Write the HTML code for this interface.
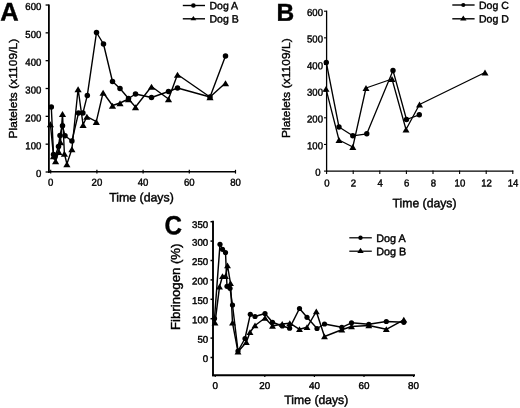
<!DOCTYPE html>
<html><head><meta charset="utf-8"><title>Figure</title>
<style>
html,body{margin:0;padding:0;background:#fff;}
svg{display:block;}
text{font-family:"Liberation Sans", Arial, Helvetica, sans-serif;fill:#000;stroke:#000;stroke-width:0.42px;}
</style></head>
<body>
<svg width="520" height="408" viewBox="0 0 520 408">
<rect width="520" height="408" fill="#fff"/>
<line x1="48.90" y1="4.40" x2="48.90" y2="172.90" stroke="#000" stroke-width="1.8"/>
<line x1="48.00" y1="171.70" x2="236.00" y2="171.70" stroke="#000" stroke-width="1.4"/>
<line x1="45.60" y1="172.00" x2="48.90" y2="172.00" stroke="#000" stroke-width="1.3"/>
<text transform="translate(41.30 177.10) rotate(0.03) scale(0.94 1)" font-size="10.2" text-anchor="end" font-weight="normal">0</text>
<line x1="45.60" y1="144.17" x2="48.90" y2="144.17" stroke="#000" stroke-width="1.3"/>
<text transform="translate(41.30 149.27) rotate(0.03) scale(0.94 1)" font-size="10.2" text-anchor="end" font-weight="normal">100</text>
<line x1="45.60" y1="116.34" x2="48.90" y2="116.34" stroke="#000" stroke-width="1.3"/>
<text transform="translate(41.30 121.44) rotate(0.03) scale(0.94 1)" font-size="10.2" text-anchor="end" font-weight="normal">200</text>
<line x1="45.60" y1="88.51" x2="48.90" y2="88.51" stroke="#000" stroke-width="1.3"/>
<text transform="translate(41.30 93.61) rotate(0.03) scale(0.94 1)" font-size="10.2" text-anchor="end" font-weight="normal">300</text>
<line x1="45.60" y1="60.68" x2="48.90" y2="60.68" stroke="#000" stroke-width="1.3"/>
<text transform="translate(41.30 65.78) rotate(0.03) scale(0.94 1)" font-size="10.2" text-anchor="end" font-weight="normal">400</text>
<line x1="45.60" y1="32.85" x2="48.90" y2="32.85" stroke="#000" stroke-width="1.3"/>
<text transform="translate(41.30 37.95) rotate(0.03) scale(0.94 1)" font-size="10.2" text-anchor="end" font-weight="normal">500</text>
<line x1="45.60" y1="5.02" x2="48.90" y2="5.02" stroke="#000" stroke-width="1.3"/>
<text transform="translate(41.30 10.12) rotate(0.03) scale(0.94 1)" font-size="10.2" text-anchor="end" font-weight="normal">600</text>
<line x1="50.70" y1="169.80" x2="50.70" y2="173.60" stroke="#000" stroke-width="1.2"/>
<text transform="translate(50.70 185.80) rotate(0.03) scale(0.94 1)" font-size="10.2" text-anchor="middle" font-weight="normal">0</text>
<line x1="96.90" y1="169.80" x2="96.90" y2="173.60" stroke="#000" stroke-width="1.2"/>
<text transform="translate(96.90 185.80) rotate(0.03) scale(0.94 1)" font-size="10.2" text-anchor="middle" font-weight="normal">20</text>
<line x1="143.10" y1="169.80" x2="143.10" y2="173.60" stroke="#000" stroke-width="1.2"/>
<text transform="translate(143.10 185.80) rotate(0.03) scale(0.94 1)" font-size="10.2" text-anchor="middle" font-weight="normal">40</text>
<line x1="189.30" y1="169.80" x2="189.30" y2="173.60" stroke="#000" stroke-width="1.2"/>
<text transform="translate(189.30 185.80) rotate(0.03) scale(0.94 1)" font-size="10.2" text-anchor="middle" font-weight="normal">60</text>
<line x1="235.50" y1="169.80" x2="235.50" y2="173.60" stroke="#000" stroke-width="1.2"/>
<text transform="translate(235.50 185.80) rotate(0.03) scale(0.94 1)" font-size="10.2" text-anchor="middle" font-weight="normal">80</text>
<text transform="translate(141.50 201.60) rotate(0.03)" font-size="12.3" text-anchor="middle" font-weight="normal">Time (days)</text>
<text transform="translate(17.00 88.60) rotate(-90)" font-size="11.8" text-anchor="middle" font-weight="normal" letter-spacing="0.12">Platelets (x1109/L)</text>
<text transform="translate(0.30 20.60) rotate(0.03)" font-size="25.5" text-anchor="start" font-weight="bold">A</text>
<polyline points="51.3,107 53.5,154.5 54.8,157 58.5,146.6 60,135.4 62.5,125.8 65,135.8 71.9,141 78.5,113.1 82.9,113.1 87.3,95.4 96.5,32.5 103.5,44 112.5,81.5 120,88.5 128.5,98.5 135.5,94 151.5,97.5 168.5,91.5 177.5,88 210,97 225.5,56" fill="none" stroke="#000" stroke-width="1.4" stroke-linejoin="round"/>
<polyline points="50.4,124 53.5,156 55.6,161 58.8,151.6 60.5,142 62.5,113.8 64.4,153.5 66.9,164 71.9,149 78.1,89 83.1,124.8 86.9,116.5 96.3,121.6 103.1,92.5 112.5,105.5 120,103 128.5,99 135.5,107 151.5,86.5 168.5,99 177.5,74.5 210,97 225.5,83" fill="none" stroke="#000" stroke-width="1.4" stroke-linejoin="round"/>
<circle cx="51.3" cy="107" r="2.75" fill="#000"/>
<circle cx="53.5" cy="154.5" r="2.75" fill="#000"/>
<circle cx="54.8" cy="157" r="2.75" fill="#000"/>
<circle cx="58.5" cy="146.6" r="2.75" fill="#000"/>
<circle cx="60" cy="135.4" r="2.75" fill="#000"/>
<circle cx="62.5" cy="125.8" r="2.75" fill="#000"/>
<circle cx="65" cy="135.8" r="2.75" fill="#000"/>
<circle cx="71.9" cy="141" r="2.75" fill="#000"/>
<circle cx="78.5" cy="113.1" r="2.75" fill="#000"/>
<circle cx="82.9" cy="113.1" r="2.75" fill="#000"/>
<circle cx="87.3" cy="95.4" r="2.75" fill="#000"/>
<circle cx="96.5" cy="32.5" r="2.75" fill="#000"/>
<circle cx="103.5" cy="44" r="2.75" fill="#000"/>
<circle cx="112.5" cy="81.5" r="2.75" fill="#000"/>
<circle cx="120" cy="88.5" r="2.75" fill="#000"/>
<circle cx="128.5" cy="98.5" r="2.75" fill="#000"/>
<circle cx="135.5" cy="94" r="2.75" fill="#000"/>
<circle cx="151.5" cy="97.5" r="2.75" fill="#000"/>
<circle cx="168.5" cy="91.5" r="2.75" fill="#000"/>
<circle cx="177.5" cy="88" r="2.75" fill="#000"/>
<circle cx="210" cy="97" r="2.75" fill="#000"/>
<circle cx="225.5" cy="56" r="2.75" fill="#000"/>
<polygon points="50.4,121.20 54.0,127.30 46.8,127.30" fill="#000"/>
<polygon points="53.5,153.20 57.1,159.30 49.9,159.30" fill="#000"/>
<polygon points="55.6,158.20 59.2,164.30 52.0,164.30" fill="#000"/>
<polygon points="58.8,148.80 62.4,154.90 55.199999999999996,154.90" fill="#000"/>
<polygon points="60.5,139.20 64.1,145.30 56.9,145.30" fill="#000"/>
<polygon points="62.5,111.00 66.1,117.10 58.9,117.10" fill="#000"/>
<polygon points="64.4,150.70 68.0,156.80 60.800000000000004,156.80" fill="#000"/>
<polygon points="66.9,161.20 70.5,167.30 63.300000000000004,167.30" fill="#000"/>
<polygon points="71.9,146.20 75.5,152.30 68.30000000000001,152.30" fill="#000"/>
<polygon points="78.1,86.20 81.69999999999999,92.30 74.5,92.30" fill="#000"/>
<polygon points="83.1,122.00 86.69999999999999,128.10 79.5,128.10" fill="#000"/>
<polygon points="86.9,113.70 90.5,119.80 83.30000000000001,119.80" fill="#000"/>
<polygon points="96.3,118.80 99.89999999999999,124.90 92.7,124.90" fill="#000"/>
<polygon points="103.1,89.70 106.69999999999999,95.80 99.5,95.80" fill="#000"/>
<polygon points="112.5,102.70 116.1,108.80 108.9,108.80" fill="#000"/>
<polygon points="120,100.20 123.6,106.30 116.4,106.30" fill="#000"/>
<polygon points="128.5,96.20 132.1,102.30 124.9,102.30" fill="#000"/>
<polygon points="135.5,104.20 139.1,110.30 131.9,110.30" fill="#000"/>
<polygon points="151.5,83.70 155.1,89.80 147.9,89.80" fill="#000"/>
<polygon points="168.5,96.20 172.1,102.30 164.9,102.30" fill="#000"/>
<polygon points="177.5,71.70 181.1,77.80 173.9,77.80" fill="#000"/>
<polygon points="210,94.20 213.6,100.30 206.4,100.30" fill="#000"/>
<polygon points="225.5,80.20 229.1,86.30 221.9,86.30" fill="#000"/>
<line x1="182.80" y1="5.50" x2="205.00" y2="5.50" stroke="#000" stroke-width="1.4"/>
<circle cx="193.4" cy="5.5" r="2.3" fill="#000"/>
<text transform="translate(209.50 9.30) rotate(0.03)" font-size="10.5" text-anchor="start" font-weight="normal" stroke-width="0.5">Dog A</text>
<line x1="182.80" y1="18.80" x2="205.00" y2="18.80" stroke="#000" stroke-width="1.4"/>
<polygon points="193.4,16.00 196.3,20.30 190.5,20.30" fill="#000"/>
<text transform="translate(209.50 22.50) rotate(0.03)" font-size="10.5" text-anchor="start" font-weight="normal" stroke-width="0.5">Dog B</text>
<line x1="326.60" y1="10.60" x2="326.60" y2="171.70" stroke="#000" stroke-width="1.3"/>
<line x1="326.00" y1="171.10" x2="513.30" y2="171.10" stroke="#000" stroke-width="1.3"/>
<line x1="324.00" y1="171.10" x2="326.60" y2="171.10" stroke="#000" stroke-width="1.1"/>
<text transform="translate(320.70 175.80) rotate(0.03) scale(0.94 1)" font-size="10.2" text-anchor="end" font-weight="normal">0</text>
<line x1="324.00" y1="144.45" x2="326.60" y2="144.45" stroke="#000" stroke-width="1.1"/>
<text transform="translate(323.00 149.15) rotate(0.03) scale(0.94 1)" font-size="10.2" text-anchor="end" font-weight="normal">100</text>
<line x1="324.00" y1="117.80" x2="326.60" y2="117.80" stroke="#000" stroke-width="1.1"/>
<text transform="translate(323.00 122.50) rotate(0.03) scale(0.94 1)" font-size="10.2" text-anchor="end" font-weight="normal">200</text>
<line x1="324.00" y1="91.15" x2="326.60" y2="91.15" stroke="#000" stroke-width="1.1"/>
<text transform="translate(323.00 95.85) rotate(0.03) scale(0.94 1)" font-size="10.2" text-anchor="end" font-weight="normal">300</text>
<line x1="324.00" y1="64.50" x2="326.60" y2="64.50" stroke="#000" stroke-width="1.1"/>
<text transform="translate(323.00 69.20) rotate(0.03) scale(0.94 1)" font-size="10.2" text-anchor="end" font-weight="normal">400</text>
<line x1="324.00" y1="37.85" x2="326.60" y2="37.85" stroke="#000" stroke-width="1.1"/>
<text transform="translate(323.00 42.55) rotate(0.03) scale(0.94 1)" font-size="10.2" text-anchor="end" font-weight="normal">500</text>
<line x1="324.00" y1="11.20" x2="326.60" y2="11.20" stroke="#000" stroke-width="1.1"/>
<text transform="translate(323.00 15.90) rotate(0.03) scale(0.94 1)" font-size="10.2" text-anchor="end" font-weight="normal">600</text>
<line x1="326.60" y1="170.60" x2="326.60" y2="174.10" stroke="#000" stroke-width="1.1"/>
<text transform="translate(326.90 186.40) rotate(0.03) scale(0.94 1)" font-size="10.2" text-anchor="middle" font-weight="normal">0</text>
<line x1="353.20" y1="170.60" x2="353.20" y2="174.10" stroke="#000" stroke-width="1.1"/>
<text transform="translate(353.50 186.40) rotate(0.03) scale(0.94 1)" font-size="10.2" text-anchor="middle" font-weight="normal">2</text>
<line x1="379.80" y1="170.60" x2="379.80" y2="174.10" stroke="#000" stroke-width="1.1"/>
<text transform="translate(380.10 186.40) rotate(0.03) scale(0.94 1)" font-size="10.2" text-anchor="middle" font-weight="normal">4</text>
<line x1="406.40" y1="170.60" x2="406.40" y2="174.10" stroke="#000" stroke-width="1.1"/>
<text transform="translate(406.70 186.40) rotate(0.03) scale(0.94 1)" font-size="10.2" text-anchor="middle" font-weight="normal">6</text>
<line x1="433.00" y1="170.60" x2="433.00" y2="174.10" stroke="#000" stroke-width="1.1"/>
<text transform="translate(433.30 186.40) rotate(0.03) scale(0.94 1)" font-size="10.2" text-anchor="middle" font-weight="normal">8</text>
<line x1="459.60" y1="170.60" x2="459.60" y2="174.10" stroke="#000" stroke-width="1.1"/>
<text transform="translate(459.90 186.40) rotate(0.03) scale(0.94 1)" font-size="10.2" text-anchor="middle" font-weight="normal">10</text>
<line x1="486.20" y1="170.60" x2="486.20" y2="174.10" stroke="#000" stroke-width="1.1"/>
<text transform="translate(486.50 186.40) rotate(0.03) scale(0.94 1)" font-size="10.2" text-anchor="middle" font-weight="normal">12</text>
<line x1="512.80" y1="170.60" x2="512.80" y2="174.10" stroke="#000" stroke-width="1.1"/>
<text transform="translate(513.10 186.40) rotate(0.03) scale(0.94 1)" font-size="10.2" text-anchor="middle" font-weight="normal">14</text>
<text transform="translate(424.50 207.20) rotate(0.03)" font-size="12.2" text-anchor="middle" font-weight="normal">Time (days)</text>
<text transform="translate(290.20 88.20) rotate(-90)" font-size="11.8" text-anchor="middle" font-weight="normal" letter-spacing="0.12">Platelets (x1109/L)</text>
<text transform="translate(276.60 20.70) rotate(0.03)" font-size="24.5" text-anchor="start" font-weight="bold">B</text>
<polyline points="326.3,62.5 339,127 352.8,135.8 366.8,133.8 393,70.5 406.5,119.5 419.3,114.8" fill="none" stroke="#000" stroke-width="1.3" stroke-linejoin="round"/>
<polyline points="326,88.8 339,140 352.8,147 366,88 392,79 406,129.5 419.5,104.5 485,72.5" fill="none" stroke="#000" stroke-width="1.3" stroke-linejoin="round"/>
<circle cx="326.3" cy="62.5" r="2.7" fill="#000"/>
<circle cx="339" cy="127" r="2.7" fill="#000"/>
<circle cx="352.8" cy="135.8" r="2.7" fill="#000"/>
<circle cx="366.8" cy="133.8" r="2.7" fill="#000"/>
<circle cx="393" cy="70.5" r="2.7" fill="#000"/>
<circle cx="406.5" cy="119.5" r="2.7" fill="#000"/>
<circle cx="419.3" cy="114.8" r="2.7" fill="#000"/>
<polygon points="326,85.90 329.5,91.80 322.5,91.80" fill="#000"/>
<polygon points="339,137.10 342.5,143.00 335.5,143.00" fill="#000"/>
<polygon points="352.8,144.10 356.3,150.00 349.3,150.00" fill="#000"/>
<polygon points="366,85.10 369.5,91.00 362.5,91.00" fill="#000"/>
<polygon points="392,76.10 395.5,82.00 388.5,82.00" fill="#000"/>
<polygon points="406,126.60 409.5,132.50 402.5,132.50" fill="#000"/>
<polygon points="419.5,101.60 423.0,107.50 416.0,107.50" fill="#000"/>
<polygon points="485,69.60 488.5,75.50 481.5,75.50" fill="#000"/>
<line x1="452.30" y1="5.00" x2="474.60" y2="5.00" stroke="#000" stroke-width="1.4"/>
<circle cx="463.3" cy="5" r="2.1" fill="#000"/>
<text transform="translate(479.00 9.00) rotate(0.03)" font-size="10.5" text-anchor="start" font-weight="normal" stroke-width="0.5">Dog C</text>
<line x1="452.30" y1="18.80" x2="474.60" y2="18.80" stroke="#000" stroke-width="1.4"/>
<polygon points="463.3,15.40 466.5,20.50 460.1,20.50" fill="#000"/>
<text transform="translate(479.00 22.60) rotate(0.03)" font-size="10.5" text-anchor="start" font-weight="normal" stroke-width="0.5">Dog D</text>
<line x1="213.00" y1="220.70" x2="213.00" y2="376.20" stroke="#000" stroke-width="1.9"/>
<line x1="212.10" y1="375.30" x2="415.00" y2="375.30" stroke="#000" stroke-width="2.0"/>
<line x1="210.50" y1="357.50" x2="212.80" y2="357.50" stroke="#000" stroke-width="1.5"/>
<text transform="translate(208.20 362.10) rotate(0.03)" font-size="9.7" text-anchor="end" font-weight="normal" stroke-width="0.5">0</text>
<line x1="210.50" y1="338.10" x2="212.80" y2="338.10" stroke="#000" stroke-width="1.5"/>
<text transform="translate(208.20 342.70) rotate(0.03)" font-size="9.7" text-anchor="end" font-weight="normal" stroke-width="0.5">50</text>
<line x1="210.50" y1="318.70" x2="212.80" y2="318.70" stroke="#000" stroke-width="1.5"/>
<text transform="translate(208.20 323.30) rotate(0.03)" font-size="9.7" text-anchor="end" font-weight="normal" stroke-width="0.5">100</text>
<line x1="210.50" y1="299.30" x2="212.80" y2="299.30" stroke="#000" stroke-width="1.5"/>
<text transform="translate(208.20 303.90) rotate(0.03)" font-size="9.7" text-anchor="end" font-weight="normal" stroke-width="0.5">150</text>
<line x1="210.50" y1="279.90" x2="212.80" y2="279.90" stroke="#000" stroke-width="1.5"/>
<text transform="translate(208.20 284.50) rotate(0.03)" font-size="9.7" text-anchor="end" font-weight="normal" stroke-width="0.5">200</text>
<line x1="210.50" y1="260.50" x2="212.80" y2="260.50" stroke="#000" stroke-width="1.5"/>
<text transform="translate(208.20 265.10) rotate(0.03)" font-size="9.7" text-anchor="end" font-weight="normal" stroke-width="0.5">250</text>
<line x1="210.50" y1="241.10" x2="212.80" y2="241.10" stroke="#000" stroke-width="1.5"/>
<text transform="translate(208.20 245.70) rotate(0.03)" font-size="9.7" text-anchor="end" font-weight="normal" stroke-width="0.5">300</text>
<line x1="210.50" y1="221.70" x2="212.80" y2="221.70" stroke="#000" stroke-width="1.5"/>
<text transform="translate(208.20 228.10) rotate(0.03)" font-size="9.7" text-anchor="end" font-weight="normal" stroke-width="0.5">350</text>
<line x1="215.20" y1="375.20" x2="215.20" y2="377.00" stroke="#000" stroke-width="1.2"/>
<text transform="translate(215.20 389.00) rotate(0.03)" font-size="9.9" text-anchor="middle" font-weight="normal" stroke-width="0.5">0</text>
<line x1="264.80" y1="375.20" x2="264.80" y2="377.00" stroke="#000" stroke-width="1.2"/>
<text transform="translate(264.80 389.00) rotate(0.03)" font-size="9.9" text-anchor="middle" font-weight="normal" stroke-width="0.5">20</text>
<line x1="314.40" y1="375.20" x2="314.40" y2="377.00" stroke="#000" stroke-width="1.2"/>
<text transform="translate(314.40 389.00) rotate(0.03)" font-size="9.9" text-anchor="middle" font-weight="normal" stroke-width="0.5">40</text>
<line x1="364.00" y1="375.20" x2="364.00" y2="377.00" stroke="#000" stroke-width="1.2"/>
<text transform="translate(364.00 389.00) rotate(0.03)" font-size="9.9" text-anchor="middle" font-weight="normal" stroke-width="0.5">60</text>
<line x1="413.60" y1="375.20" x2="413.60" y2="377.00" stroke="#000" stroke-width="1.2"/>
<text transform="translate(413.60 389.00) rotate(0.03)" font-size="9.9" text-anchor="middle" font-weight="normal" stroke-width="0.5">80</text>
<text transform="translate(316.30 404.00) rotate(0.03)" font-size="12.2" text-anchor="middle" font-weight="normal">Time (days)</text>
<text transform="translate(179.50 330.00) rotate(-90)" font-size="13.2" text-anchor="start" font-weight="normal">Fibrinogen (%)</text>
<text transform="translate(164.60 234.20) rotate(0.03) scale(0.92 1)" font-size="26.3" text-anchor="start" font-weight="bold">C</text>
<polyline points="214.5,318.5 220,244.3 222.5,249.3 225.5,252.5 227,286.3 230,288.3 232.5,305 238,351 245,338.5 250.3,314.3 255,316.5 265,313.5 272.5,322.3 282.3,326 289.6,328.2 299.5,308.5 307,317.3 317,328.5 324.5,324 341.8,327.3 351.5,322.8 368.8,324.3 386.3,321.5 403.8,322.3" fill="none" stroke="#000" stroke-width="1.45" stroke-linejoin="round"/>
<polyline points="215,322.8 219.5,286.8 222.5,276.3 225.5,276.3 227.5,265.5 230.5,283.3 232.5,322.8 238,351.8 246.3,342.3 250,332.3 255,325.5 265,318 272.5,326 282.2,324 289.8,323.2 299.5,329.3 307,327.3 316.3,311.5 324.5,336.5 341.8,329.8 351.5,326.5 368.8,325.5 386.3,329.3 403.8,319.8" fill="none" stroke="#000" stroke-width="1.45" stroke-linejoin="round"/>
<circle cx="214.5" cy="318.5" r="2.6" fill="#000"/>
<circle cx="220" cy="244.3" r="2.6" fill="#000"/>
<circle cx="222.5" cy="249.3" r="2.6" fill="#000"/>
<circle cx="225.5" cy="252.5" r="2.6" fill="#000"/>
<circle cx="227" cy="286.3" r="2.6" fill="#000"/>
<circle cx="230" cy="288.3" r="2.6" fill="#000"/>
<circle cx="232.5" cy="305" r="2.6" fill="#000"/>
<circle cx="238" cy="351" r="2.6" fill="#000"/>
<circle cx="245" cy="338.5" r="2.6" fill="#000"/>
<circle cx="250.3" cy="314.3" r="2.6" fill="#000"/>
<circle cx="255" cy="316.5" r="2.6" fill="#000"/>
<circle cx="265" cy="313.5" r="2.6" fill="#000"/>
<circle cx="272.5" cy="322.3" r="2.6" fill="#000"/>
<circle cx="282.3" cy="326" r="2.6" fill="#000"/>
<circle cx="289.6" cy="328.2" r="2.6" fill="#000"/>
<circle cx="299.5" cy="308.5" r="2.6" fill="#000"/>
<circle cx="307" cy="317.3" r="2.6" fill="#000"/>
<circle cx="317" cy="328.5" r="2.6" fill="#000"/>
<circle cx="324.5" cy="324" r="2.6" fill="#000"/>
<circle cx="341.8" cy="327.3" r="2.6" fill="#000"/>
<circle cx="351.5" cy="322.8" r="2.6" fill="#000"/>
<circle cx="368.8" cy="324.3" r="2.6" fill="#000"/>
<circle cx="386.3" cy="321.5" r="2.6" fill="#000"/>
<circle cx="403.8" cy="322.3" r="2.6" fill="#000"/>
<polygon points="215,319.80 218.45,325.50 211.55,325.50" fill="#000"/>
<polygon points="219.5,283.80 222.95,289.50 216.05,289.50" fill="#000"/>
<polygon points="222.5,273.30 225.95,279.00 219.05,279.00" fill="#000"/>
<polygon points="225.5,273.30 228.95,279.00 222.05,279.00" fill="#000"/>
<polygon points="227.5,262.50 230.95,268.20 224.05,268.20" fill="#000"/>
<polygon points="230.5,280.30 233.95,286.00 227.05,286.00" fill="#000"/>
<polygon points="232.5,319.80 235.95,325.50 229.05,325.50" fill="#000"/>
<polygon points="238,348.80 241.45,354.50 234.55,354.50" fill="#000"/>
<polygon points="246.3,339.30 249.75,345.00 242.85000000000002,345.00" fill="#000"/>
<polygon points="250,329.30 253.45,335.00 246.55,335.00" fill="#000"/>
<polygon points="255,322.50 258.45,328.20 251.55,328.20" fill="#000"/>
<polygon points="265,315.00 268.45,320.70 261.55,320.70" fill="#000"/>
<polygon points="272.5,323.00 275.95,328.70 269.05,328.70" fill="#000"/>
<polygon points="282.2,321.00 285.65,326.70 278.75,326.70" fill="#000"/>
<polygon points="289.8,320.20 293.25,325.90 286.35,325.90" fill="#000"/>
<polygon points="299.5,326.30 302.95,332.00 296.05,332.00" fill="#000"/>
<polygon points="307,324.30 310.45,330.00 303.55,330.00" fill="#000"/>
<polygon points="316.3,308.50 319.75,314.20 312.85,314.20" fill="#000"/>
<polygon points="324.5,333.50 327.95,339.20 321.05,339.20" fill="#000"/>
<polygon points="341.8,326.80 345.25,332.50 338.35,332.50" fill="#000"/>
<polygon points="351.5,323.50 354.95,329.20 348.05,329.20" fill="#000"/>
<polygon points="368.8,322.50 372.25,328.20 365.35,328.20" fill="#000"/>
<polygon points="386.3,326.30 389.75,332.00 382.85,332.00" fill="#000"/>
<polygon points="403.8,316.80 407.25,322.50 400.35,322.50" fill="#000"/>
<line x1="349.30" y1="237.80" x2="371.80" y2="237.80" stroke="#000" stroke-width="1.25"/>
<circle cx="360.5" cy="237.8" r="2.2" fill="#000"/>
<text transform="translate(376.30 241.90) rotate(0.03)" font-size="10.8" text-anchor="start" font-weight="normal" stroke-width="0.5">Dog A</text>
<line x1="349.30" y1="251.20" x2="371.80" y2="251.20" stroke="#000" stroke-width="1.25"/>
<polygon points="360.5,247.80 363.7,252.90 357.3,252.90" fill="#000"/>
<text transform="translate(376.30 255.20) rotate(0.03)" font-size="10.8" text-anchor="start" font-weight="normal" stroke-width="0.5">Dog B</text>
</svg>
</body></html>
